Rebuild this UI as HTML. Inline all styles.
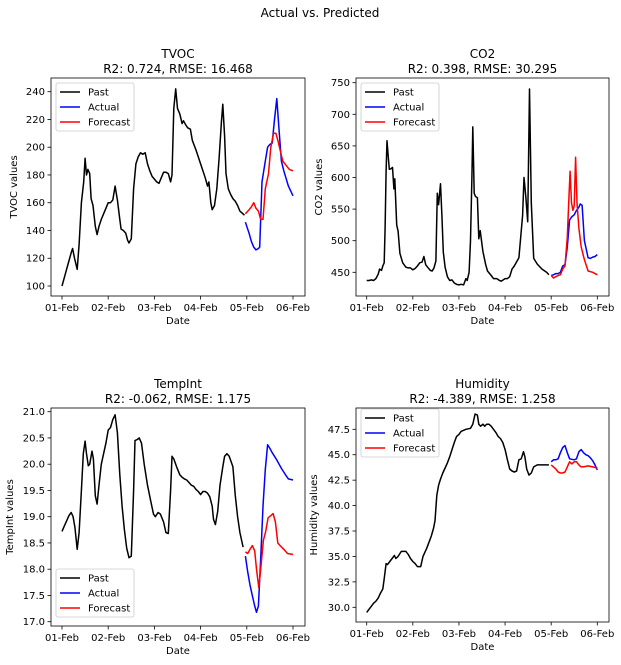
<!DOCTYPE html>
<html><head><meta charset="utf-8"><style>
body{margin:0;background:#fff;}
svg text{font-family:"DejaVu Sans","Liberation Sans",sans-serif;fill:#000;}
</style></head><body>
<svg id="fig" width="621" height="660" viewBox="0 0 621 660" xmlns="http://www.w3.org/2000/svg">
<rect width="621" height="660" fill="#fff"/>
<text x="320" y="17" text-anchor="middle" font-size="12">Actual vs. Predicted</text>
</svg>
<script>
const dayTicks=["01-Feb","02-Feb","03-Feb","04-Feb","05-Feb","06-Feb"];
const tvocPastDay=[0,0.05,0.1,0.15,0.2,0.23,0.27,0.33,0.37,0.42,0.47,0.5,0.53,0.56,0.6,0.63,0.67,0.72,0.76,0.8,0.85,0.9,0.95,1.0,1.05,1.1,1.15,1.2,1.25,1.28,1.33,1.38,1.42,1.45,1.5,1.55,1.6,1.65,1.7,1.75,1.8,1.85,1.9,1.95,2.0,2.05,2.1,2.15,2.2,2.25,2.3,2.35,2.38,2.42,2.46,2.5,2.55,2.6,2.63,2.68,2.72,2.78,2.82,2.9,3.0,3.1,3.15,3.18,3.22,3.25,3.3,3.35,3.4,3.45,3.48,3.52,3.55,3.6,3.65,3.7,3.75,3.8,3.85,3.95];
const tvocPastVal=[100,106,112,118,124,127,120,112,130,160,175,192,180,184,181,163,158,143,137,143,148,152,156,160,160,162,172,162,148,141,140,138,133,131,134,170,188,193,196,195,196,188,183,179,177,175,174,178,182,182,181,175,180,228,242,228,224,217,219,216,214,213,205,198,188,178,172,175,160,155,158,170,192,218,231,208,181,170,166,163,161,158,154,151];
const tvocActDay=[3.97,4.05,4.1,4.15,4.2,4.25,4.28,4.33,4.4,4.45,4.5,4.55,4.6,4.65,4.7,4.75,4.8,4.9,5.0];
const tvocActVal=[146,138,132,128,126,127,128,175,190,200,202,203,220,235,212,190,183,172,165];
const tvocFcDay=[3.97,4.05,4.1,4.15,4.2,4.25,4.3,4.35,4.4,4.47,4.52,4.58,4.63,4.68,4.72,4.78,4.85,4.92,5.0];
const tvocFcVal=[152,155,157,160,156,154,148,148,170,181,200,210,210,204,198,190,187,184,183];
const tvocTicks=[100,120,140,160,180,200,220,240];

const co2PastDay=[0,0.05,0.1,0.15,0.2,0.25,0.28,0.32,0.35,0.38,0.4,0.42,0.44,0.47,0.49,0.53,0.56,0.59,0.61,0.63,0.65,0.68,0.72,0.78,0.85,0.9,0.95,1.0,1.05,1.1,1.15,1.2,1.24,1.28,1.32,1.38,1.42,1.46,1.5,1.53,1.56,1.6,1.63,1.66,1.7,1.75,1.8,1.85,1.9,1.95,2.0,2.05,2.1,2.15,2.18,2.22,2.25,2.28,2.3,2.33,2.36,2.4,2.43,2.46,2.52,2.58,2.62,2.7,2.75,2.82,2.88,2.92,2.96,3.0,3.05,3.1,3.15,3.2,3.3,3.38,3.41,3.45,3.49,3.53,3.57,3.62,3.7,3.8,3.9,3.95];
const co2PastVal=[437,437,438,437,440,447,455,453,460,465,520,610,658,630,613,614,616,582,598,560,525,515,480,465,458,457,457,454,456,460,465,466,475,462,458,453,452,457,468,575,557,590,540,482,458,443,437,438,433,431,430,431,430,440,437,450,500,600,680,575,570,568,503,516,483,462,452,445,440,440,437,436,438,440,440,443,455,460,473,540,600,570,530,740,560,472,463,455,450,446];
const co2ActDay=[4.0,4.05,4.1,4.15,4.2,4.25,4.3,4.35,4.4,4.45,4.5,4.55,4.6,4.63,4.67,4.72,4.8,4.85,4.9,4.95,5.0];
const co2ActVal=[445,446,448,448,450,460,462,490,533,538,541,548,553,558,556,500,473,472,474,475,478];
const co2FcDay=[4.0,4.05,4.1,4.15,4.2,4.25,4.3,4.35,4.38,4.41,4.44,4.47,4.5,4.53,4.56,4.6,4.65,4.72,4.8,4.9,5.0];
const co2FcVal=[445,441,443,445,446,455,460,505,560,610,560,548,555,632,560,520,490,470,452,450,446];
const co2Ticks=[450,500,550,600,650,700,750];

const tempPastDay=[0,0.05,0.1,0.15,0.2,0.24,0.28,0.33,0.37,0.42,0.46,0.5,0.53,0.57,0.6,0.65,0.68,0.72,0.76,0.8,0.85,0.9,0.95,1.0,1.05,1.1,1.15,1.2,1.25,1.3,1.35,1.4,1.45,1.5,1.55,1.58,1.63,1.67,1.72,1.78,1.85,1.92,1.98,2.02,2.08,2.13,2.2,2.25,2.3,2.35,2.38,2.42,2.48,2.55,2.6,2.65,2.7,2.75,2.8,2.85,2.9,2.95,3.0,3.05,3.1,3.15,3.2,3.25,3.28,3.32,3.37,3.42,3.48,3.52,3.57,3.62,3.66,3.7,3.75,3.8,3.85,3.92];
const tempPastVal=[18.72,18.82,18.92,19.02,19.08,19.0,18.8,18.38,18.7,19.5,20.2,20.44,20.2,19.97,20.0,20.25,20.1,19.4,19.24,19.6,20.0,20.2,20.4,20.65,20.7,20.85,20.94,20.6,19.8,19.2,18.75,18.4,18.22,18.25,19.5,20.45,20.47,20.5,20.4,20.0,19.6,19.3,19.05,19.0,19.08,19.05,18.9,18.7,18.68,19.5,20.15,20.1,19.95,19.8,19.75,19.72,19.7,19.65,19.6,19.58,19.52,19.48,19.42,19.48,19.48,19.45,19.38,19.2,18.95,18.85,19.1,19.6,19.95,20.15,20.2,20.15,20.05,19.95,19.4,19.0,18.7,18.42];
const tempActDay=[3.97,4.02,4.07,4.12,4.17,4.21,4.25,4.3,4.35,4.4,4.45,4.5,4.55,4.6,4.65,4.7,4.75,4.8,4.85,4.9,5.0];
const tempActVal=[18.25,17.95,17.7,17.5,17.3,17.18,17.3,18.2,19.2,19.9,20.37,20.3,20.22,20.15,20.08,20.0,19.92,19.85,19.78,19.72,19.7];
const tempFcDay=[3.97,4.02,4.07,4.12,4.17,4.21,4.26,4.3,4.36,4.41,4.46,4.52,4.57,4.62,4.67,4.72,4.8,4.88,5.0];
const tempFcVal=[18.33,18.3,18.38,18.45,18.35,18.0,17.65,18.0,18.55,18.72,18.98,19.02,19.06,18.9,18.5,18.45,18.38,18.3,18.28];
const tempTicks=[17.0,17.5,18.0,18.5,19.0,19.5,20.0,20.5,21.0];

const humPastDay=[0,0.05,0.1,0.15,0.2,0.25,0.3,0.35,0.38,0.42,0.45,0.5,0.55,0.6,0.63,0.68,0.75,0.85,0.9,0.95,1.0,1.05,1.1,1.17,1.22,1.3,1.35,1.4,1.45,1.48,1.52,1.56,1.6,1.65,1.7,1.75,1.8,1.85,1.9,1.95,2.0,2.05,2.1,2.15,2.2,2.25,2.3,2.35,2.4,2.43,2.47,2.52,2.56,2.6,2.65,2.7,2.75,2.8,2.85,2.9,2.95,3.0,3.05,3.1,3.15,3.2,3.25,3.3,3.35,3.4,3.43,3.47,3.52,3.57,3.62,3.7,3.8,3.95];
const humPastVal=[29.5,29.8,30.1,30.4,30.6,30.9,31.4,31.8,32.8,34.3,34.2,34.5,34.8,35.1,34.8,35.0,35.5,35.5,35.2,34.8,34.5,34.3,34.0,34.0,35.0,35.8,36.4,37.0,37.8,38.5,41.0,42.0,42.6,43.2,43.7,44.2,44.8,45.5,46.2,46.8,47.0,47.3,47.4,47.5,47.55,47.6,48.0,49.0,48.9,48.0,47.8,48.0,47.8,48.0,48.0,47.8,47.5,47.2,46.8,46.6,46.2,45.5,44.5,43.6,43.4,43.3,43.4,44.5,44.6,45.3,44.8,43.6,43.0,43.2,43.8,44.0,44.0,44.0];
const humActDay=[4.0,4.05,4.1,4.15,4.2,4.25,4.3,4.35,4.4,4.5,4.55,4.6,4.65,4.7,4.75,4.8,4.85,4.9,4.95,5.0];
const humActVal=[44.3,44.5,44.5,44.6,45.2,45.7,45.9,45.2,44.6,44.5,44.6,45.3,45.5,45.2,45.0,44.9,44.7,44.4,44.0,43.5];
const humFcDay=[4.0,4.05,4.1,4.15,4.2,4.25,4.3,4.35,4.4,4.45,4.5,4.55,4.6,4.65,4.7,4.8,4.9,5.0];
const humFcVal=[44.0,43.8,43.6,43.3,43.2,43.2,43.3,43.8,44.3,44.1,44.3,44.3,44.0,43.8,43.8,43.9,43.8,43.7];
const humTicks=[30.0,32.5,35.0,37.5,40.0,42.5,45.0,47.5];

const NS="http://www.w3.org/2000/svg";
const fig=document.getElementById('fig');
function mk(tag,attrs,parent){const e=document.createElementNS(NS,tag);for(const k in attrs)e.setAttribute(k,attrs[k]);parent.appendChild(e);return e;}

function panel(cfg){
  const g=mk('g',{},fig);
  
  
  const L=cfg.L,R=cfg.R,T=cfg.T,B=cfg.B;
  const xs=d=>cfg.x0+d*(cfg.x5-cfg.x0)/5;
  const ys=v=>cfg.yA+(v-cfg.vA)*(cfg.yB-cfg.yA)/(cfg.vB-cfg.vA);
  const t1=mk('text',{x:(L+R)/2,y:T-20,'text-anchor':'middle','font-size':12},g);t1.textContent=cfg.title;
  
  
  const t2=mk('text',{x:(L+R)/2,y:T-5,'text-anchor':'middle','font-size':12},g);t2.textContent=cfg.sub;
  
  
  dayTicks.forEach((lab,i)=>{const x=xs(i);
    mk('line',{x1:x,x2:x,y1:B,y2:B+3.5,stroke:'#000','stroke-width':0.8},g);
    const t=mk('text',{x:x,y:B+15,'text-anchor':'middle','font-size':10},g);t.textContent=lab;
    
    });
  cfg.ticks.forEach(v=>{const y=ys(v);
    mk('line',{x1:L-3.5,x2:L,y1:y,y2:y,stroke:'#000','stroke-width':0.8},g);
    const t=mk('text',{x:L-6,y:y+3.5,'text-anchor':'end','font-size':10},g);t.textContent=cfg.dec?v.toFixed(1):String(v);
    
    });
  const xl=mk('text',{x:(L+R)/2,y:B+28,'text-anchor':'middle','font-size':10},g);xl.textContent='Date';
  
  
  const yl=mk('text',{x:0,y:0,'text-anchor':'middle','font-size':10,transform:`translate(${cfg.ylx},${(T+B)/2}) rotate(-90)`},g);yl.textContent=cfg.ylabel;
  
  
  const series=[[cfg.pd,cfg.pv,'#000','past'],[cfg.ad,cfg.av,'#0000ff','actual'],[cfg.fd,cfg.fv,'#ff0000','forecast']];
  series.forEach(s=>{const pts=s[0].map((d,i)=>xs(d).toFixed(1)+','+ys(s[1][i]).toFixed(1)).join(' ');
    const p=mk('polyline',{points:pts,fill:'none',stroke:s[2],'stroke-width':1.5,'stroke-linejoin':'round'},g);
    
    });
  mk('rect',{x:L,y:T,width:R-L,height:B-T,fill:'none',stroke:'#000','stroke-width':0.8},g);
  const lg=mk('g',{},g);
  
  
  mk('rect',{x:cfg.lx,y:cfg.ly,width:78,height:48,rx:2,fill:'#fff','fill-opacity':0.8,stroke:'#ccc','stroke-width':0.8},lg);
  [['Past','#000'],['Actual','#0000ff'],['Forecast','#ff0000']].forEach((e,i)=>{const y=cfg.ly+9+i*15;
    mk('line',{x1:cfg.lx+4,x2:cfg.lx+24,y1:y,y2:y,stroke:e[1],'stroke-width':1.5},lg);
    const t=mk('text',{x:cfg.lx+32,y:y+3.5,'font-size':10},lg);t.textContent=e[0];
    
    });
}
panel({key:'tvoc',title:'TVOC',sub:'R2: 0.724, RMSE: 16.468',ylabel:'TVOC values',L:51,R:305,T:78,B:296,x0:62,x5:293,yA:286,vA:100,yB:91.7,vB:240,ticks:tvocTicks,dec:false,ylx:17,lx:56,ly:83,pd:tvocPastDay,pv:tvocPastVal,ad:tvocActDay,av:tvocActVal,fd:tvocFcDay,fv:tvocFcVal});
panel({key:'co2',title:'CO2',sub:'R2: 0.398, RMSE: 30.295',ylabel:'CO2 values',L:356,R:609,T:78,B:296,x0:366.7,x5:597.3,yA:272.3,vA:450,yB:82.7,vB:750,ticks:co2Ticks,dec:false,ylx:322,lx:361,ly:83,pd:co2PastDay,pv:co2PastVal,ad:co2ActDay,av:co2ActVal,fd:co2FcDay,fv:co2FcVal});
panel({key:'tempint',title:'TempInt',sub:'R2: -0.062, RMSE: 1.175',ylabel:'TempInt values',L:51,R:305,T:408,B:626,x0:62,x5:293,yA:621.7,vA:17,yB:411.7,vB:21,ticks:tempTicks,dec:true,ylx:13,lx:56,ly:569,pd:tempPastDay,pv:tempPastVal,ad:tempActDay,av:tempActVal,fd:tempFcDay,fv:tempFcVal});
panel({key:'humidity',title:'Humidity',sub:'R2: -4.389, RMSE: 1.258',ylabel:'Humidity values',L:356,R:609,T:408,B:622,x0:366.7,x5:597.3,yA:607.3,vA:30,yB:429.3,vB:47.5,ticks:humTicks,dec:true,ylx:317,lx:361,ly:409,pd:humPastDay,pv:humPastVal,ad:humActDay,av:humActVal,fd:humFcDay,fv:humFcVal});
</script>
</body></html>
